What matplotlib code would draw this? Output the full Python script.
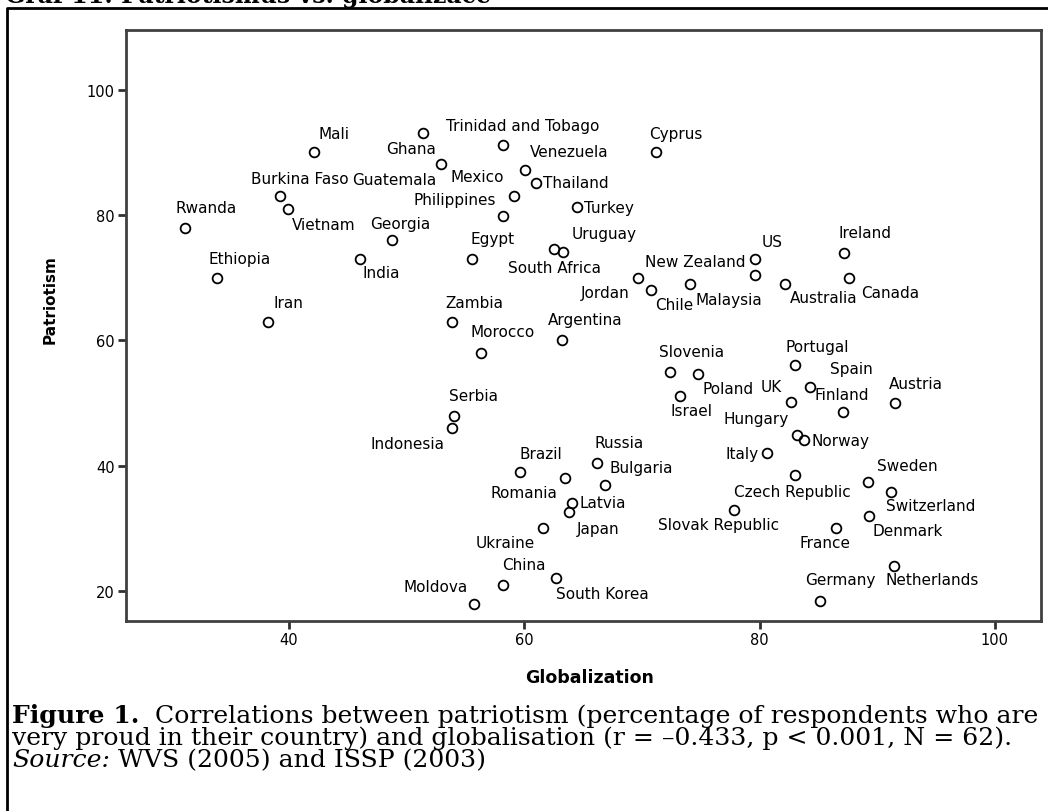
import numpy as np
import matplotlib
matplotlib.use("Agg")
import matplotlib.pyplot as plt
from matplotlib.lines import Line2D
from matplotlib.transforms import IdentityTransform

# dane
countries = ["Mali", "Ghana", "Guatemala", "Trinidad and Tobago", "Venezuela", "Mexico",
             "Philippines", "Thailand", "Turkey", "Cyprus", "Burkina Faso", "Vietnam",
             "Rwanda", "Georgia", "India", "Egypt", "Uruguay", "South Africa", "Ethiopia",
             "Iran", "Zambia", "Morocco", "Argentina", "US", "New Zealand", "Jordan",
             "Chile", "Malaysia", "Australia", "Canada", "Ireland", "Slovenia", "Poland",
             "Israel", "Portugal", "Spain", "UK", "Finland", "Hungary", "Norway", "Austria",
             "Serbia", "Indonesia", "Russia", "Brazil", "Italy", "Bulgaria", "Romania",
             "Latvia", "Japan", "Ukraine", "China", "South Korea", "Moldova",
             "Slovak Republic", "Czech Republic", "Sweden", "Switzerland", "Denmark",
             "France", "Netherlands", "Germany"]
globalization = [42.1, 51.4, 52.9, 58.2, 60.1, 59.1, 58.2, 61.0, 64.5, 71.2, 39.2, 39.9,
                 31.2, 48.8, 46.0, 55.6, 62.5, 63.3, 33.9, 38.2, 53.9, 56.3, 63.2, 79.6,
                 79.6, 69.7, 70.8, 74.1, 82.2, 87.6, 87.2, 72.4, 74.8, 73.2, 83.0, 84.3,
                 82.7, 87.1, 83.2, 83.8, 91.5, 54.0, 53.9, 66.2, 59.6, 80.6, 66.9, 63.5,
                 64.1, 63.8, 61.6, 58.2, 62.7, 55.7, 77.8, 83.0, 89.2, 91.2, 89.3, 86.5,
                 91.4, 85.1]
patriotism = [90.0, 93.1, 88.1, 91.1, 87.1, 83.1, 79.9, 85.1, 81.2, 90.0, 83.0, 81.0,
              78.0, 76.0, 73.0, 73.0, 74.5, 74.1, 69.9, 63.0, 63.0, 58.0, 60.1, 73.0,
              70.5, 70.0, 68.0, 69.0, 69.0, 70.0, 74.0, 55.0, 54.6, 51.1, 56.0, 52.6,
              50.1, 48.5, 44.9, 44.1, 50.0, 48.0, 46.0, 40.4, 39.0, 42.0, 37.0, 38.0,
              34.1, 32.6, 30.0, 21.0, 22.1, 18.0, 33.0, 38.5, 37.4, 35.9, 32.0, 30.0,
              24.0, 18.5]

# polozenie etykiet wzgledem punktu (piksele)
label_dx = [20, -12, -46, 20, 44, -36, -48, 40, 32, 20, 20, 36, 21, 8, 22, 20, 50, -9,
            22, 21, 22, 22, 23, 17, -60, -33, 23, 39, 38, 41, 21, 21, 30, 12, 22, 41, -20,
            -1, -41, 36, 21, 20, -45, 22, 21, -25, 36, -41, 30, 29, -38, 21, 46, -38,
            -15, -2, 40, 39, 39, -11, 39, 21]
label_dy = [19, -16, -15, 20, 19, 19, 16, 0, 0, 19, 18, -16, 20, 17, -14, 20, 16, -16,
            20, 19, 19, 21, 20, 17, 13, -15, -14, -16, -14, -15, 20, 20, -14, -14, 19, 18,
            16, 18, 17, 0, 20, 20, -15, 21, 19, 0, 17, -14, 0, -16, -14, 20, -15, 17,
            -15, -16, 17, -14, -15, -14, -13, 21]

fig = plt.figure(figsize=(10.48, 8.12), dpi=100)
ax = fig.add_axes([126/1048, 1-622.3/812, (1040.7-126)/1048, (622.3-31)/812])

ax.plot(globalization, patriotism, linestyle="none", marker="o", markersize=7,
        markerfacecolor="none", markeredgecolor="black", markeredgewidth=1.3)
for name, gx, py, dx, dy in zip(countries, globalization, patriotism, label_dx, label_dy):
    ax.annotate(name, (gx, py), xytext=(dx, dy), textcoords="offset pixels",
                ha="center", va="center", fontsize=11, family="DejaVu Sans")

ax.set_xlim(26.15, 103.9)
ax.set_ylim(15.2, 109.5)
ax.set_xticks([40, 60, 80, 100])
ax.set_yticks([20, 40, 60, 80, 100])
ax.tick_params(length=6, width=2, labelsize=10.5, color="#303030", pad=2)
for s in ax.spines.values():
    s.set_linewidth(2)
    s.set_color("#404040")

fig.text(50/1048, 1-300/812, "Patriotism", rotation=90, ha="center", va="center",
         fontsize=11, fontweight="bold")
fig.text(590/1048, 1-678/812, "Globalization", ha="center", va="center",
         fontsize=12.5, fontweight="bold")

# ramka zewnetrzna
fig.add_artist(Line2D([7/1048, 7/1048, 1.01], [-0.01, 1-9/812, 1-9/812],
                      transform=fig.transFigure, color="black", lw=2))

# tytul (uciety u gory, jak w oryginale)
fig.text(5/1048, 1-3/812, "Graf 11: Patriotismus vs. globalizace", ha="left",
         va="baseline", fontsize=17, fontweight="bold", family="DejaVu Serif")

# podpis
r = fig.canvas.get_renderer()
line1 = [("Figure 1.", "bold", "normal"),
         ("  Correlations between patriotism (percentage of respondents who are", "normal", "normal")]
line2 = [("very proud in their country) and globalisation (r = \u20130.433, p < 0.001, N = 62).", "normal", "normal")]
line3 = [("Source:", "normal", "italic"), (" WVS (2005) and ISSP (2003)", "normal", "normal")]

def draw_line(pieces, x0, y, size, draw=True):
    x = x0
    for txt, w, st in pieces:
        t = fig.text(x, y, txt, transform=IdentityTransform(), ha="left", va="baseline",
                     fontsize=size, fontweight=w, fontstyle=st, family="DejaVu Serif")
        bb = t.get_window_extent(r)
        x = bb.x1 + (size * 0.3 if txt.endswith(" ") else 0)
        if not draw:
            t.remove()
    return x - x0

w = draw_line(line1, 12, 0, 10, draw=False)
size = 10 * 1031 / w
draw_line(line1, 12, 812-723, size)
draw_line(line2, 12, 812-745, size)
draw_line(line3, 12, 812-767, size)

plt.savefig("out.png", dpi=100)
